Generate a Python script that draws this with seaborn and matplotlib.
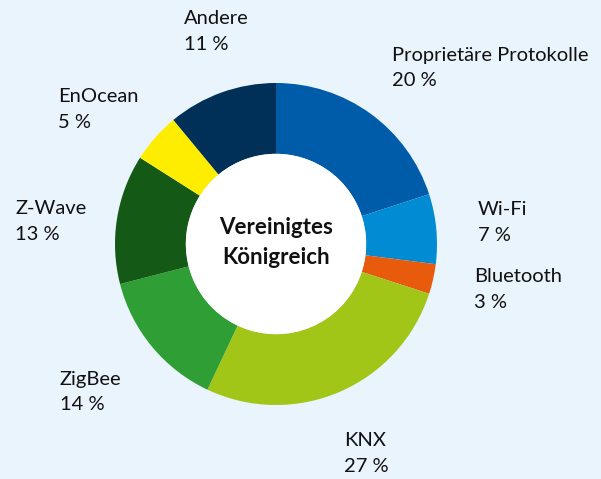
import matplotlib
matplotlib.use("Agg")
import matplotlib.pyplot as plt
import seaborn as sns

categories = ["Proprietäre Protokolle", "Wi-Fi", "Bluetooth", "KNX", "ZigBee", "Z-Wave", "EnOcean", "Andere"]
values = [20, 7, 3, 27, 14, 13, 5, 11]
colors = ["#005CA9", "#008BD2", "#E85A0C", "#A2C617", "#2F9E35", "#145A16", "#FFED00", "#003058"]
center_label = ["Vereinigtes", "Königreich"]

# label anchor positions in pixels (left x, center y of first line)
label_pos = [(392, 55), (478, 209), (474, 276), (344, 440), (60, 379), (15, 208), (58, 97), (184, 18)]

sns.set_theme(style="white")
plt.rcParams['font.family'] = ['Lato', 'DejaVu Sans']

W, H = 601, 479
bg = "#EAF4FD"
fig = plt.figure(figsize=(W / 100, H / 100), dpi=100, facecolor=bg)

cx, cy, r = 276, 244, 161
ax = fig.add_axes([(cx - r) / W, (H - cy - r) / H, 2 * r / W, 2 * r / H])
ax.set_facecolor(bg)
ax.pie(values, colors=colors, startangle=90, counterclock=False, radius=1,
       wedgeprops=dict(width=0.44, edgecolor="none"))
ax.add_patch(plt.Circle((0, 0), 0.56, facecolor="white", edgecolor="none", zorder=5))
ax.set_xlim(-1, 1)
ax.set_ylim(-1, 1)
ax.set_aspect("equal")
ax.axis("off")

for (x, y), name, v in zip(label_pos, categories, values):
    fig.text(x / W, 1 - y / H, name, ha="left", va="center", fontsize=14.5, color="#111111")
    fig.text(x / W, 1 - (y + 26) / H, f"{v} %", ha="left", va="center", fontsize=14.5, color="#111111")

fig.text(cx / W, 1 - 228 / H, center_label[0], ha="center", va="center", fontsize=16, fontweight="bold", color="#111111")
fig.text(cx / W, 1 - 257 / H, center_label[1], ha="center", va="center", fontsize=16, fontweight="bold", color="#111111")

fig.savefig("out.png", dpi=100, facecolor=bg)
